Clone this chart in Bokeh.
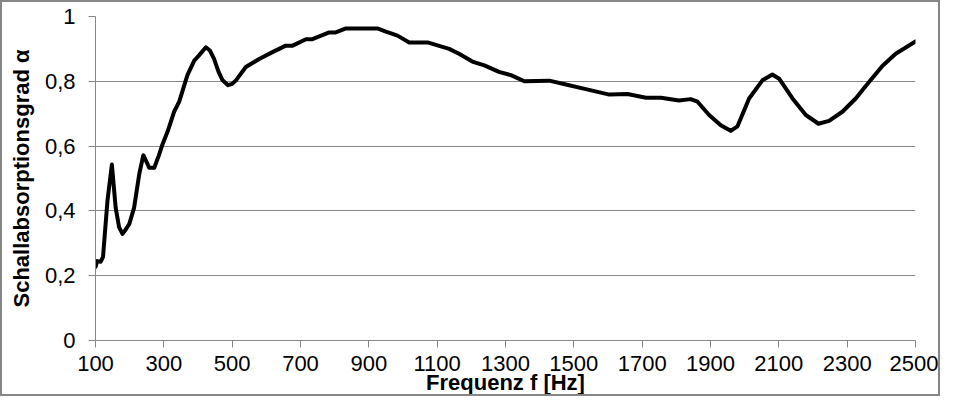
from bokeh.plotting import figure
from bokeh.models import Range1d, FixedTicker
from bokeh.embed import file_html
from bokeh.resources import INLINE

# data
freq = [100, 105, 115, 122, 135, 148, 159, 169, 179, 190, 199, 213, 228, 240, 250, 257, 272,
        285, 296, 311, 330, 345, 369, 389, 403, 423, 435, 447, 460, 472, 488, 500, 511, 540,
        579, 618, 657, 677, 716, 735, 784, 803, 833, 925, 950, 984, 1018, 1072, 1135, 1164,
        1203, 1238, 1281, 1316, 1355, 1428, 1477, 1535, 1604, 1657, 1711, 1755, 1808, 1842,
        1862, 1896, 1930, 1959, 1979, 2013, 2052, 2081, 2101, 2140, 2179, 2216, 2247, 2286,
        2325, 2364, 2403, 2442, 2500]
alpha = [0.227, 0.245, 0.243, 0.258, 0.431, 0.543, 0.41, 0.35, 0.329, 0.345, 0.36, 0.41, 0.513,
         0.572, 0.55, 0.533, 0.533, 0.57, 0.605, 0.645, 0.706, 0.737, 0.819, 0.864, 0.88, 0.905,
         0.895, 0.869, 0.83, 0.803, 0.788, 0.792, 0.803, 0.844, 0.869, 0.89, 0.91, 0.91, 0.93,
         0.93, 0.951, 0.951, 0.963, 0.963, 0.953, 0.941, 0.92, 0.92, 0.9, 0.885, 0.861, 0.849,
         0.829, 0.819, 0.8, 0.802, 0.79, 0.776, 0.759, 0.761, 0.749, 0.749, 0.741, 0.745, 0.737,
         0.696, 0.664, 0.647, 0.661, 0.747, 0.803, 0.821, 0.808, 0.747, 0.696, 0.669, 0.678,
         0.706, 0.747, 0.798, 0.847, 0.885, 0.923]

x_ticks = [100, 300, 500, 700, 900, 1100, 1300, 1500, 1700, 1900, 2100, 2300, 2500]
y_ticks = [0, 0.2, 0.4, 0.6, 0.8, 1.0]
y_tick_labels = ["0", "0,2", "0,4", "0,6", "0,8", "1"]

x_title = "Frequenz f [Hz]"
y_title = "Schallabsorptionsgrad α"

FONT = "Liberation Sans"
GRAY = "#868686"

p = figure(width=940, height=396, output_backend="svg", toolbar_location=None,
           x_range=Range1d(100, 2500), y_range=Range1d(0, 1))
p.min_border_left = 93
p.min_border_right = 27
p.min_border_top = 14
p.min_border_bottom = 58
p.outline_line_color = None
p.background_fill_color = "white"
p.border_fill_color = "white"
p.styles = {"border": "2px solid " + GRAY, "box-sizing": "border-box"}

p.line(freq, alpha, line_color="black", line_width=4, line_join="round", line_cap="round")

p.xgrid.grid_line_color = None
p.ygrid.grid_line_color = GRAY
p.ygrid.grid_line_width = 1

p.xaxis.ticker = FixedTicker(ticks=x_ticks)
p.yaxis.ticker = FixedTicker(ticks=y_ticks)
p.yaxis.major_label_overrides = {t: l for t, l in zip(y_ticks, y_tick_labels)}

for ax in (p.xaxis[0], p.yaxis[0]):
    ax.axis_line_color = GRAY
    ax.axis_line_width = 1
    ax.major_tick_line_color = GRAY
    ax.major_tick_in = 0
    ax.major_tick_out = 7
    ax.minor_tick_line_color = None
    ax.major_label_text_font = FONT
    ax.major_label_text_font_size = "22px"
    ax.major_label_text_color = "black"
    ax.axis_label_text_font = FONT
    ax.axis_label_text_font_size = "22px"
    ax.axis_label_text_font_style = "bold"
    ax.axis_label_text_color = "black"

p.xaxis.axis_label = x_title
p.yaxis.axis_label = y_title
p.xaxis.major_label_standoff = 8
p.yaxis.major_label_standoff = 13
p.xaxis.axis_label_standoff = -4
p.yaxis.axis_label_standoff = 8

open("out.html", "w").write(file_html(p, INLINE))
